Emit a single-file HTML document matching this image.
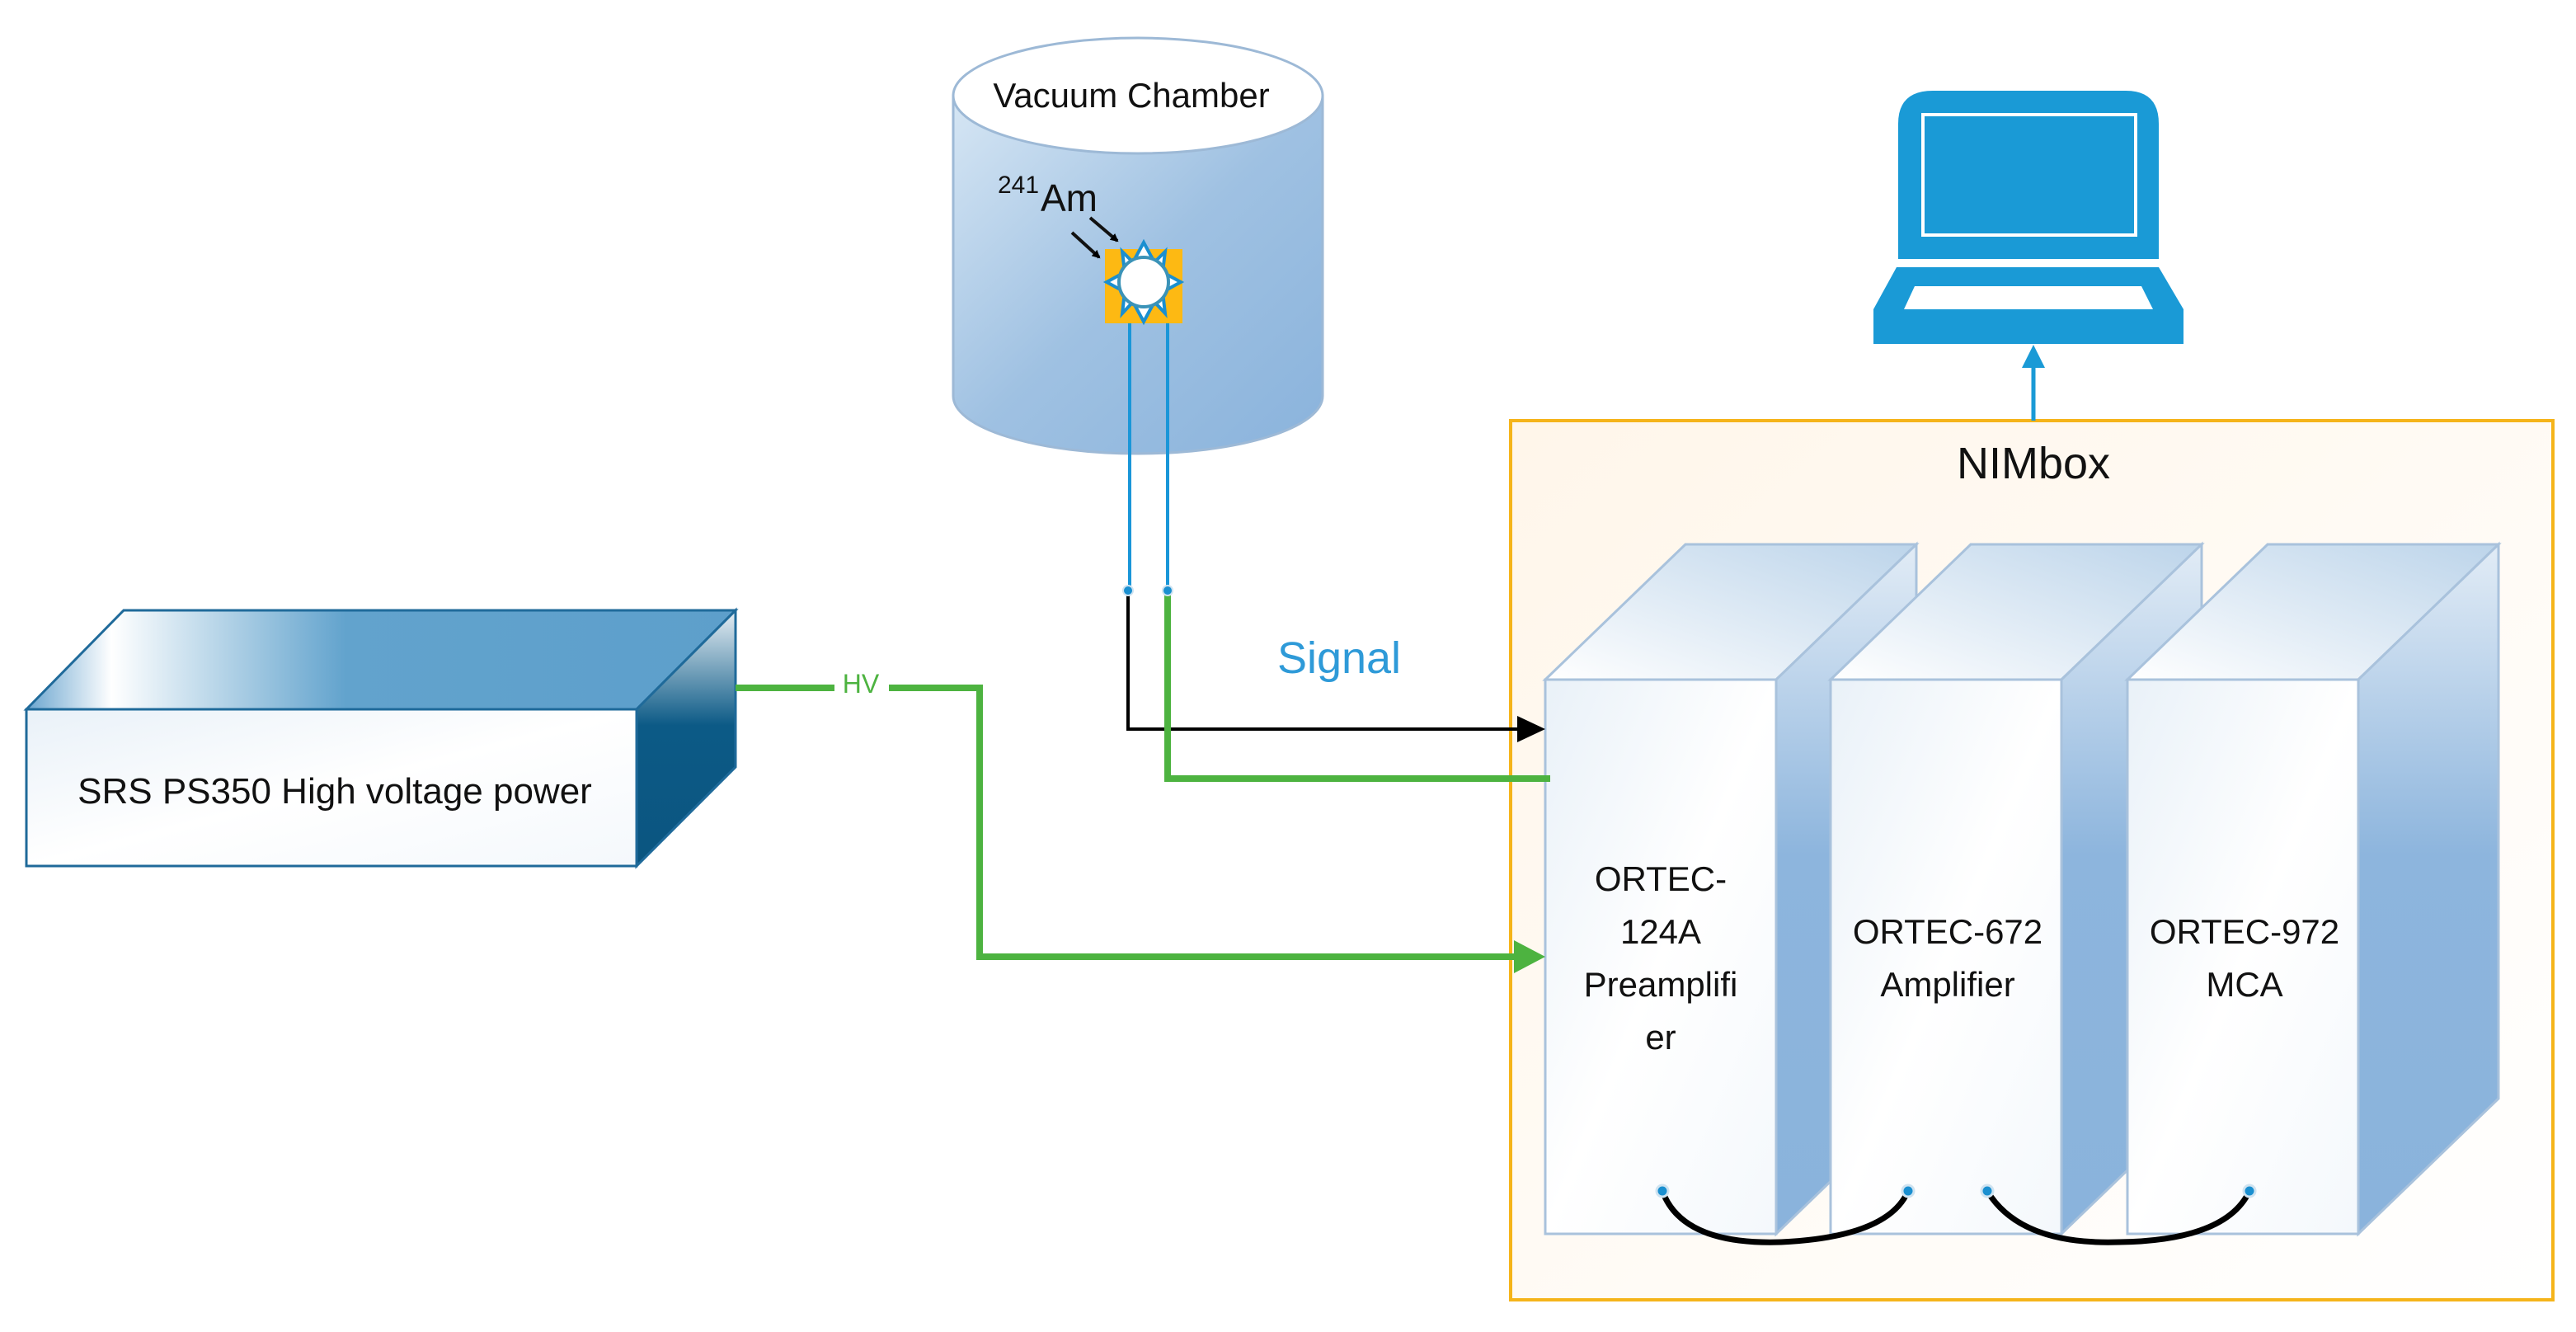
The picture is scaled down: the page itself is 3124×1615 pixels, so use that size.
<!DOCTYPE html>
<html><head><meta charset="utf-8"><style>
html,body{margin:0;padding:0;background:#fff;}
svg{display:block;}
text{font-family:"Liberation Sans",sans-serif;}
</style></head><body>
<svg width="3124" height="1615" viewBox="0 0 3124 1615" xmlns="http://www.w3.org/2000/svg">
<defs>
<linearGradient id="cyl" x1="0" y1="0" x2="1" y2="1">
<stop offset="0" stop-color="#d6e6f4"/><stop offset="0.5" stop-color="#9fc1e2"/><stop offset="1" stop-color="#8ab3dc"/></linearGradient>
<linearGradient id="front" x1="0" y1="0" x2="1" y2="1">
<stop offset="0" stop-color="#e9f1f8"/><stop offset="0.5" stop-color="#ffffff"/><stop offset="1" stop-color="#f4f8fc"/></linearGradient>
<linearGradient id="srstop" x1="0" y1="0" x2="1" y2="0">
<stop offset="0" stop-color="#6aa5cf"/><stop offset="0.12" stop-color="#ffffff"/><stop offset="0.45" stop-color="#62a3cd"/><stop offset="1" stop-color="#5d9fcb"/></linearGradient>
<linearGradient id="srsside" x1="0" y1="0" x2="0" y2="1">
<stop offset="0" stop-color="#e6eef4"/><stop offset="0.45" stop-color="#0c5a86"/><stop offset="1" stop-color="#0b5580"/></linearGradient>
<linearGradient id="modtop" x1="0" y1="1" x2="1" y2="0">
<stop offset="0" stop-color="#ffffff"/><stop offset="1" stop-color="#bcd4ea"/></linearGradient>
<linearGradient id="modside" x1="0" y1="0" x2="0" y2="1">
<stop offset="0" stop-color="#e2ecf6"/><stop offset="0.45" stop-color="#8db5dd"/><stop offset="1" stop-color="#8ab3dc"/></linearGradient>
<linearGradient id="nim" x1="0" y1="0" x2="1" y2="1">
<stop offset="0" stop-color="#fff6ea"/><stop offset="1" stop-color="#ffffff"/></linearGradient>
<marker id="ab" markerWidth="10" markerHeight="10" refX="8" refY="5" orient="auto" markerUnits="userSpaceOnUse" viewBox="0 0 10 10"><path d="M0,0 L10,5 L0,10 z" fill="#000"/></marker>
</defs>

<!-- Vacuum chamber -->
<path d="M1156,116 L1156,480 A224,70 0 0 0 1604,480 L1604,116 Z" fill="url(#cyl)" stroke="#9db9d6" stroke-width="3"/>
<ellipse cx="1380" cy="116" rx="224" ry="70" fill="#fff" stroke="#9db9d6" stroke-width="3"/>
<text x="1372" y="130" font-size="42" text-anchor="middle" fill="#111">Vacuum Chamber</text>
<text x="1210" y="234" font-size="30" font-family="Liberation Serif" fill="#111">241</text>
<text x="1262" y="256" font-size="46" font-family="Liberation Serif" fill="#111">Am</text>
<line x1="1322" y1="264" x2="1355" y2="292" stroke="#111" stroke-width="4" marker-end="url(#ab)"/>
<line x1="1300" y1="282" x2="1333" y2="312" stroke="#111" stroke-width="4" marker-end="url(#ab)"/>
<rect x="1340" y="302" width="94" height="90" fill="#fdb913"/>
<g fill="#fff" stroke="#1a8fd0" stroke-width="4">
<polygon points="1387,294 1400,318 1413,305 1410,330 1432,342 1410,354 1413,380 1400,366 1387,390 1374,366 1361,380 1364,354 1342,342 1364,330 1361,305 1374,318"/>
</g>
<circle cx="1387" cy="342" r="30" fill="#fff" stroke="#3b93b8" stroke-width="4"/>
<line x1="1370" y1="392" x2="1370" y2="716" stroke="#1a96d8" stroke-width="4"/>
<line x1="1416" y1="392" x2="1416" y2="716" stroke="#1a96d8" stroke-width="4"/>

<!-- NIMbox -->
<rect x="1832" y="510" width="1264" height="1066" fill="url(#nim)" stroke="#f5b41a" stroke-width="4"/>
<text x="2466" y="580" font-size="54" text-anchor="middle" fill="#111">NIMbox</text>

<!-- Modules -->
<g stroke="#a9c2dc" stroke-width="3">
<polygon points="1874,824 2044,660 2324,660 2154,824" fill="url(#modtop)"/>
<polygon points="2154,824 2324,660 2324,1332 2154,1496" fill="url(#modside)"/>
<rect x="1874" y="824" width="280" height="672" fill="url(#front)"/>
<polygon points="2220,824 2390,660 2670,660 2500,824" fill="url(#modtop)"/>
<polygon points="2500,824 2670,660 2670,1332 2500,1496" fill="url(#modside)"/>
<rect x="2220" y="824" width="280" height="672" fill="url(#front)"/>
<polygon points="2580,824 2750,660 3030,660 2860,824" fill="url(#modtop)"/>
<polygon points="2860,824 3030,660 3030,1332 2860,1496" fill="url(#modside)"/>
<rect x="2580" y="824" width="280" height="672" fill="url(#front)"/>
</g>
<g font-size="42" text-anchor="middle" fill="#111">
<text x="2014" y="1080">ORTEC-</text>
<text x="2014" y="1144">124A</text>
<text x="2014" y="1208">Preamplifi</text>
<text x="2014" y="1272">er</text>
<text x="2362" y="1144">ORTEC-672</text>
<text x="2362" y="1208">Amplifier</text>
<text x="2722" y="1144">ORTEC-972</text>
<text x="2722" y="1208">MCA</text>
</g>
<path d="M2016,1444 Q2040,1510 2160,1506 Q2290,1500 2314,1444" fill="none" stroke="#000" stroke-width="7"/>
<path d="M2410,1444 Q2450,1510 2570,1506 Q2700,1504 2728,1444" fill="none" stroke="#000" stroke-width="7"/>
<g fill="#1a8fd0" stroke="#cfe3f1" stroke-width="3">
<circle cx="2016" cy="1444" r="7"/><circle cx="2314" cy="1444" r="7"/>
<circle cx="2410" cy="1444" r="7"/><circle cx="2728" cy="1444" r="7"/>
</g>

<!-- Signal lines -->
<polyline points="1368,716 1368,884 1850,884" fill="none" stroke="#000" stroke-width="4"/>
<polygon points="1840,868 1874,884 1840,900" fill="#000"/>
<polyline points="1416,716 1416,944 1880,944" fill="none" stroke="#4db340" stroke-width="8"/>
<circle cx="1368" cy="716" r="6" fill="#1a8fd0" stroke="#cfe3f1" stroke-width="2"/>
<circle cx="1416" cy="716" r="6" fill="#1a8fd0" stroke="#cfe3f1" stroke-width="2"/>
<text x="1624" y="816" font-size="54" text-anchor="middle" fill="#2e9ad8">Signal</text>

<!-- SRS box -->
<g stroke="#1f6a9a" stroke-width="3">
<polygon points="32,860 150,740 892,740 772,860" fill="url(#srstop)"/>
<polygon points="772,860 892,740 892,930 772,1050" fill="url(#srsside)"/>
<rect x="32" y="860" width="740" height="190" fill="url(#front)"/>
</g>
<text x="406" y="974" font-size="44" text-anchor="middle" fill="#111">SRS PS350 High voltage power</text>

<!-- HV line -->
<polyline points="892,834 1188,834 1188,1160 1840,1160" fill="none" stroke="#4db340" stroke-width="8"/>
<rect x="1012" y="812" width="66" height="40" fill="#fff"/>
<text x="1044" y="840" font-size="32" text-anchor="middle" fill="#4db340">HV</text>
<polygon points="1836,1140 1874,1160 1836,1180" fill="#4db340"/>

<!-- Laptop -->
<g fill="#1a9ad6">
<path d="M2344,110 L2578,110 Q2618,110 2618,150 L2618,314 L2302,314 L2302,150 Q2302,110 2344,110 Z"/>
<polygon points="2300,324 2618,324 2648,375 2648,417 2272,417 2272,375"/>
</g>
<rect x="2332" y="139" width="258" height="146" fill="none" stroke="#fff" stroke-width="4"/>
<polygon points="2322,347 2597,347 2611,375 2309,375" fill="#fff"/>
<line x1="2466" y1="510" x2="2466" y2="440" stroke="#1a9ad6" stroke-width="5"/>
<polygon points="2452,446 2466,418 2480,446" fill="#1a9ad6"/>
</svg>
</body></html>
